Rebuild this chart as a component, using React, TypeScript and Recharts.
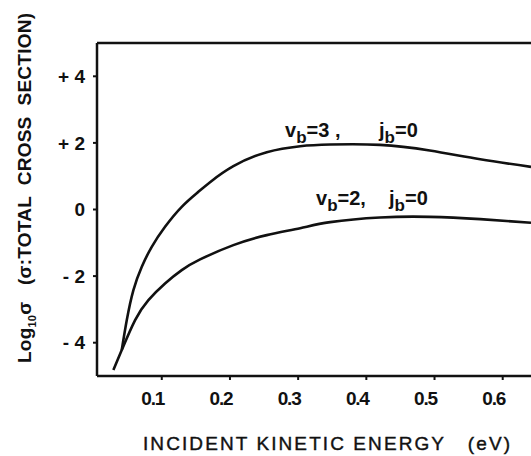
import { LineChart, Line, XAxis, YAxis, ReferenceLine } from "recharts";

// incident kinetic energy (eV) and log10 sigma
const energyV3 = [0.0413, 0.0487, 0.0584, 0.0707, 0.0853, 0.1048, 0.1293, 0.1537, 0.1708, 0.205, 0.254, 0.303, 0.347, 0.42, 0.493, 0.567, 0.6415];
const logSigmaV3 = [-4.22, -3.32, -2.42, -1.72, -1.12, -0.52, 0.08, 0.53, 0.82, 1.3, 1.72, 1.9, 1.95, 1.94, 1.77, 1.51, 1.28];

const energyV2 = [0.029, 0.0413, 0.0609, 0.0804, 0.1048, 0.1293, 0.1562, 0.205, 0.254, 0.303, 0.347, 0.42, 0.493, 0.567, 0.6415];
const logSigmaV2 = [-4.82, -4.22, -3.32, -2.72, -2.22, -1.82, -1.5, -1.07, -0.77, -0.56, -0.38, -0.24, -0.22, -0.29, -0.4];

const xTicks = [0.1, 0.2, 0.3, 0.4, 0.5, 0.6];
const yTicks = [-4, -2, 0, 2, 4];

const seriesV3 = energyV3.map((e, i) => ({ e, s: logSigmaV3[i] }));
const seriesV2 = energyV2.map((e, i) => ({ e, s: logSigmaV2[i] }));

const INK = "#111";
const font = "'Liberation Sans', Arial, sans-serif";

const fmtY = (v: number) => (v > 0 ? `+ ${v}` : v < 0 ? `- ${-v}` : "0");

const CurveLabel = ({ x, jx, y, v }: { x: number; jx: number; y: number; v: string }) => (
  <g fontFamily={font} fontWeight="bold" fontSize={20} fill={INK}>
    <text x={x} y={y}>
      v<tspan dy={6} fontSize={17}>b</tspan>
      <tspan dy={-6}>={v}</tspan>
    </text>
    <text x={jx} y={y}>
      j<tspan dy={6} fontSize={17}>b</tspan>
      <tspan dy={-6}>=0</tspan>
    </text>
  </g>
);

export default function App() {
  return (
    <div style={{ position: "fixed", left: 0, top: 0, width: 531, height: 456, background: "#fff", overflow: "hidden" }}>
      <LineChart width={531} height={456} margin={{ top: 43, right: 0, bottom: 40, left: 37 }}>
        <XAxis
          type="number"
          dataKey="e"
          domain={[0.005, 0.6415]}
          allowDataOverflow
          ticks={xTicks}
          tickFormatter={(v: number) => v.toFixed(1)}
          height={40}
          tickSize={4}
          tickMargin={12}
          axisLine={{ stroke: INK, strokeWidth: 2.5 }}
          tickLine={{ stroke: INK, strokeWidth: 2 }}
          tick={{ fill: INK, fontSize: 19, fontWeight: "bold", fontFamily: font, letterSpacing: -1.2, dx: -9 }}
        />
        <YAxis
          type="number"
          dataKey="s"
          domain={[-5, 5]}
          allowDataOverflow
          ticks={yTicks}
          tickFormatter={fmtY}
          width={60}
          tickSize={4}
          tickMargin={8}
          axisLine={{ stroke: INK, strokeWidth: 2.5 }}
          tickLine={{ stroke: INK, strokeWidth: 2 }}
          tick={{ fill: INK, fontSize: 19, fontWeight: "bold", fontFamily: font }}
        />
        <ReferenceLine y={5} stroke={INK} strokeWidth={2.5} />
        <Line data={seriesV3} dataKey="s" type="natural" stroke={INK} strokeWidth={2.6} dot={false} isAnimationActive={false} />
        <Line data={seriesV2} dataKey="s" type="natural" stroke={INK} strokeWidth={2.6} dot={false} isAnimationActive={false} />
      </LineChart>
      <svg width={531} height={456} style={{ position: "absolute", left: 0, top: 0, pointerEvents: "none" }}>
        <CurveLabel x={285} jx={379} y={137} v="3 ," />
        <CurveLabel x={316} jx={389} y={205} v="2," />
        <text
          x={143}
          y={450}
          textLength={367}
          lengthAdjust="spacing"
          fontFamily={font}
          fontSize={19}
          fill={INK}
          stroke={INK}
          strokeWidth={0.4}
          style={{ whiteSpace: "pre" }}
        >
          INCIDENT KINETIC ENERGY   (eV)
        </text>
        <text
          transform="translate(31, 363) rotate(-90)"
          x={0}
          y={0}
          textLength={350}
          lengthAdjust="spacing"
          fontFamily={font}
          fontWeight="bold"
          fontSize={19}
          fill={INK}
          style={{ whiteSpace: "pre" }}
        >
          Log<tspan dy={5} fontSize={11}>10</tspan>
          <tspan dy={-5}>σ   (σ:TOTAL  CROSS  SECTION)</tspan>
        </text>
      </svg>
    </div>
  );
}
